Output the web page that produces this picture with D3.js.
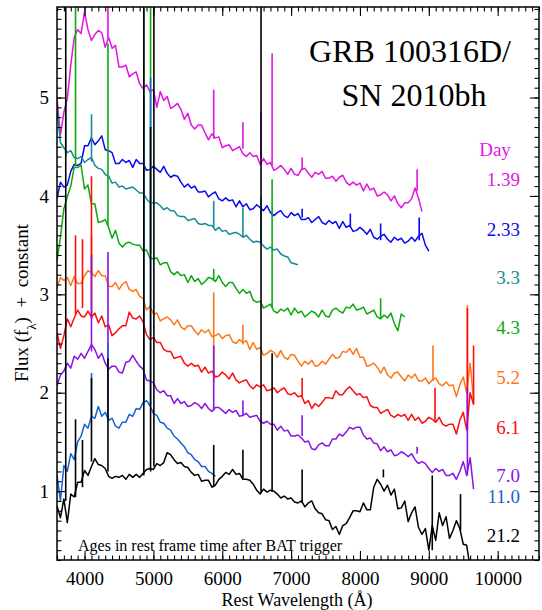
<!DOCTYPE html>
<html>
<head>
<meta charset="utf-8">
<script src="https://cdn.jsdelivr.net/npm/d3@7"></script>
<style>
body { margin: 0; background: #fff; }
text { font-family: "Liberation Serif", "Times New Roman", serif; }
</style>
</head>
<body>
<div class="chart"></div>
<script>
// every spectrum is sampled on the same grid: 3600 A, then every 50 A
var waveStart = 3600;
var waveStep = 50;

var days = ["1.39", "2.33", "3.3", "4.3", "5.2", "6.1", "7.0", "11.0", "21.2"];

var flux139 = [4.99,4.62,4.85,4.99,5.33,5.61,5.69,5.65,5.87,5.69,5.58,5.64,5.68,5.66,5.51,5.61,5.50,5.53,5.31,5.31,
  5.33,5.21,5.24,5.26,5.14,5.09,5.13,5.06,5.08,4.90,5.06,4.97,5.01,4.89,4.91,4.94,4.88,4.78,4.84,4.72,
  4.68,4.72,4.72,4.64,4.57,4.63,4.59,4.60,4.49,4.51,4.52,4.46,4.48,4.50,4.43,4.40,4.44,4.40,4.41,4.32,
  4.38,4.32,4.34,4.26,4.28,4.31,4.27,4.22,4.28,4.22,4.21,4.27,4.28,4.23,4.19,4.24,4.22,4.25,4.18,4.18,
  4.20,4.15,4.19,4.21,4.14,4.11,4.14,4.11,4.13,4.05,4.12,4.06,4.08,4.00,4.01,4.04,4.01,3.95,4.00,3.92,
  3.88,3.93,3.93,3.97,4.08,3.98,3.84];
var flux233 = [3.97,4.14,4.09,4.11,4.25,4.32,4.31,4.33,4.51,4.51,4.59,4.52,4.56,4.61,4.47,4.46,4.44,4.33,4.33,4.37,
  4.34,4.36,4.29,4.37,4.33,4.33,4.26,4.27,4.30,4.27,4.24,4.30,4.23,4.19,4.21,4.20,4.14,4.09,4.12,4.08,
  4.10,4.04,4.04,4.05,3.99,4.02,4.04,3.97,3.95,3.98,3.95,3.96,3.89,3.95,3.89,3.92,3.86,3.87,3.91,3.88,
  3.85,3.90,3.83,3.80,3.83,3.85,3.80,3.78,3.83,3.80,3.82,3.76,3.76,3.78,3.73,3.76,3.79,3.73,3.71,3.75,
  3.72,3.74,3.67,3.74,3.68,3.70,3.64,3.65,3.68,3.65,3.61,3.66,3.58,3.56,3.59,3.61,3.56,3.53,3.58,3.55,
  3.57,3.52,3.54,3.58,3.54,3.59,3.62,3.50,3.44];
var flux33 = [4.89,4.54,4.49,4.44,4.46,4.39,4.38,4.40,4.34,4.37,4.39,4.31,4.28,4.27,4.22,4.20,4.13,4.14,4.09,4.10,
  4.07,4.08,4.09,4.06,4.03,4.03,3.97,3.93,3.93,3.93,3.90,3.86,3.88,3.85,3.85,3.80,3.79,3.79,3.75,3.76,
  3.77,3.72,3.71,3.72,3.70,3.70,3.65,3.68,3.64,3.65,3.61,3.62,3.63,3.61,3.58,3.60,3.56,3.53,3.54,3.53,
  3.49,3.46,3.48,3.45,3.46,3.41,3.39,3.38,3.32,3.31,3.30];
var flux43 = [3.34,3.58,3.87,3.99,4.10,4.29,4.29,4.31,4.07,4.11,3.92,3.92,3.73,3.74,3.76,3.68,3.57,3.65,3.52,3.48,
  3.52,3.53,3.51,3.50,3.50,3.44,3.45,3.37,3.36,3.37,3.30,3.32,3.32,3.23,3.20,3.23,3.19,3.20,3.12,3.19,
  3.13,3.16,3.10,3.13,3.17,3.16,3.13,3.19,3.12,3.08,3.12,3.12,3.06,3.01,3.05,3.01,3.03,2.94,2.92,2.93,
  2.86,2.88,2.90,2.83,2.81,2.85,2.83,2.86,2.79,2.86,2.81,2.83,2.77,2.80,2.83,2.81,2.77,2.84,2.78,2.77,
  2.84,2.86,2.83,2.81,2.87,2.86,2.90,2.84,2.85,2.87,2.80,2.82,2.84,2.77,2.75,2.79,2.76,2.81,2.70,2.63,
  2.80,2.77];
var flux52 = [3.07,3.17,3.14,3.17,3.09,3.18,3.11,3.11,3.19,3.24,3.22,3.18,3.24,3.19,3.19,3.08,3.08,3.12,3.05,3.10,
  3.13,3.05,3.03,3.05,2.98,2.96,2.84,2.88,2.80,2.81,2.73,2.75,2.77,2.74,2.69,2.74,2.67,2.64,2.68,2.68,
  2.63,2.59,2.64,2.61,2.64,2.57,2.58,2.60,2.55,2.58,2.59,2.52,2.50,2.54,2.51,2.53,2.44,2.51,2.44,2.46,
  2.38,2.40,2.43,2.41,2.36,2.43,2.36,2.34,2.39,2.38,2.32,2.27,2.32,2.29,2.33,2.27,2.28,2.32,2.29,2.34,
  2.39,2.35,2.36,2.42,2.41,2.45,2.39,2.45,2.36,2.36,2.27,2.28,2.30,2.26,2.20,2.26,2.18,2.15,2.20,2.21,
  2.16,2.12,2.18,2.15,2.19,2.12,2.12,2.15,2.09,2.13,2.15,2.09,2.07,2.11,2.07,2.08,1.96,2.08,2.16,2.00,
  2.30,1.92];
var flux61 = [2.61,2.45,2.58,2.75,2.67,2.76,2.84,2.78,2.77,2.83,2.77,2.81,2.71,2.78,2.67,2.69,2.58,2.61,2.65,2.68,
  2.68,2.82,2.76,2.75,2.78,2.72,2.59,2.54,2.56,2.51,2.51,2.44,2.42,2.42,2.35,2.36,2.37,2.30,2.27,2.30,
  2.27,2.28,2.21,2.26,2.20,2.22,2.16,2.17,2.21,2.18,2.14,2.20,2.13,2.10,2.12,2.13,2.07,2.04,2.08,2.06,
  2.08,2.02,2.03,2.05,2.00,2.03,2.05,1.99,1.98,2.00,1.96,1.97,1.89,1.92,1.84,1.89,1.86,1.90,1.95,1.95,
  1.94,2.02,1.98,1.98,2.03,2.06,2.02,1.98,1.99,1.95,1.96,1.87,1.85,1.85,1.79,1.81,1.83,1.77,1.75,1.78,
  1.76,1.78,1.72,1.78,1.72,1.75,1.69,1.71,1.75,1.73,1.70,1.75,1.68,1.66,1.68,1.68,1.58,1.72,1.80,1.62,
  2.00,1.88];
var flux70 = [2.07,2.18,2.22,2.30,2.25,2.37,2.34,2.40,2.35,2.42,2.49,2.44,2.35,2.40,2.30,2.24,2.27,2.27,2.21,2.20,
  2.31,2.32,2.38,2.32,2.27,2.24,2.13,2.12,2.10,2.03,2.00,2.02,1.97,1.97,1.89,1.94,1.89,1.91,1.86,1.87,
  1.90,1.88,1.84,1.89,1.84,1.81,1.85,1.85,1.82,1.79,1.83,1.80,1.82,1.76,1.77,1.79,1.75,1.76,1.77,1.71,
  1.69,1.71,1.68,1.68,1.62,1.66,1.61,1.62,1.56,1.56,1.57,1.54,1.50,1.51,1.43,1.42,1.47,1.49,1.46,1.46,
  1.53,1.53,1.58,1.56,1.60,1.65,1.63,1.65,1.65,1.57,1.53,1.54,1.49,1.48,1.41,1.45,1.40,1.42,1.36,1.37,
  1.40,1.38,1.35,1.38,1.32,1.28,1.30,1.28,1.23,1.19,1.23,1.20,1.22,1.16,1.16,1.18,1.12,1.20,1.30,1.16,
  1.34,1.02];
var flux110 = [1.16,0.90,1.26,1.20,1.38,1.32,1.50,1.56,1.68,1.64,1.76,1.74,1.86,1.76,1.80,1.72,1.74,1.66,1.64,1.70,
  1.70,1.78,1.76,1.84,1.83,1.90,1.92,1.87,1.79,1.77,1.70,1.69,1.64,1.62,1.56,1.53,1.49,1.45,1.39,1.37,
  1.32,1.30,1.25,1.25,1.20,1.18,1.15];
var flux212 = [0.85,0.73,0.92,0.68,0.97,0.94,1.09,1.09,1.21,1.16,1.25,1.33,1.27,1.26,1.23,1.15,1.13,1.15,1.14,1.16,
  1.12,1.17,1.14,1.17,1.14,1.18,1.22,1.23,1.22,1.28,1.26,1.29,1.39,1.37,1.32,1.28,1.29,1.25,1.24,1.19,
  1.16,1.17,1.10,1.11,1.11,1.04,1.06,1.12,1.15,1.19,1.17,1.22,1.17,1.18,1.12,1.12,1.11,1.07,1.01,0.97,
  1.02,0.99,1.01,1.00,0.97,0.93,0.95,0.92,0.93,0.89,0.88,0.90,0.84,0.88,0.90,0.82,0.78,0.77,0.71,0.70,
  0.61,0.64,0.56,0.65,0.67,0.73,0.80,0.80,0.79,0.88,0.81,0.81,1.04,1.12,1.07,1.00,1.06,0.96,1.02,0.82,
  0.83,0.90,0.69,0.78,0.84,0.63,0.56,0.62,0.40,0.65,0.50,0.78,0.65,0.74,0.52,0.60,0.70,0.62,0.46,0.45,
  0.22];

// narrow emission lines / spikes: [wavelength, low, high]
var lines139 = [[4340, 5.60, 6.10], [5876, 4.58, 5.08], [6300, 4.48, 4.75], [6563, 4.38, 4.85], [6724, 4.31, 5.45], [7160, 4.26, 4.39], [8830, 4.05, 4.27]];
var lines233 = [[7160, 3.78, 3.87], [7860, 3.69, 3.82], [8300, 3.55, 3.72], [8860, 3.55, 3.78]];
var lines33 = [[3727, 4.40, 4.95], [4101, 4.35, 4.83], [5876, 3.68, 3.95], [6300, 3.59, 3.88], [6563, 3.52, 3.99]];
var lines43 = [[3869, 4.30, 6.10], [4340, 3.70, 5.55], [4861, 3.45, 6.10], [4959, 3.42, 6.10], [5876, 3.14, 3.26], [6724, 2.86, 4.17], [8300, 2.75, 2.96]];
var lines52 = [[4101, 3.20, 3.60], [5876, 2.10, 3.02], [6300, 2.49, 2.69], [9060, 2.12, 2.48], [9560, 2.00, 2.89]];
var lines61 = [[3869, 2.80, 3.60], [3970, 2.86, 3.56], [4101, 2.75, 4.20], [7160, 1.96, 2.15], [9090, 1.70, 2.05], [9560, 1.62, 2.86], [9650, 1.88, 2.48]];
var lines70 = [[4101, 2.42, 3.40], [4340, 2.32, 3.43], [5876, 1.82, 2.48], [6300, 1.76, 1.92], [7160, 1.56, 1.77], [8830, 1.38, 1.45], [9560, 1.16, 2.05]];
var lines110 = [[4101, 1.76, 2.20], [4340, 1.72, 2.50], [4861, 1.88, 5.00], [4959, 1.87, 5.20]];
var lines212 = [[3727, 0.90, 6.10], [3869, 0.94, 1.73], [3970, 1.04, 1.52], [4101, 1.30, 2.15], [4340, 1.20, 2.35],
  [4861, 1.16, 6.10], [4959, 1.20, 4.70], [5007, 1.25, 6.10], [5876, 1.04, 1.47], [6300, 1.13, 1.42],
  [6563, 0.98, 6.10], [6724, 0.99, 2.40], [7160, 0.88, 1.22], [8340, 1.14, 1.22], [9050, 0.40, 1.16], [9460, 0.60, 0.97]];

var xMajor = [4000, 5000, 6000, 7000, 8000, 9000, 10000];
var yMajor = [1, 2, 3, 4, 5];

var spectra = [
  { day: days[0], flux: flux139, lines: lines139, color: "#e214e2", labelAt: 4.17 },
  { day: days[1], flux: flux233, lines: lines233, color: "#0808f2", labelAt: 3.66 },
  { day: days[2], flux: flux33, lines: lines33, color: "#158a9a", labelAt: 3.17 },
  { day: days[3], flux: flux43, lines: lines43, color: "#0aaa0a", labelAt: 2.66 },
  { day: days[4], flux: flux52, lines: lines52, color: "#ff7614", labelAt: 2.16 },
  { day: days[5], flux: flux61, lines: lines61, color: "#ff0c0c", labelAt: 1.65 },
  { day: days[6], flux: flux70, lines: lines70, color: "#8a12e6", labelAt: 1.16 },
  { day: days[7], flux: flux110, lines: lines110, color: "#1462d6", labelAt: 0.95 },
  { day: days[8], flux: flux212, lines: lines212, color: "#000000", labelAt: 0.55 }
];

var svg = d3.select(".chart").append("svg")
    .attr("width", 542)
    .attr("height", 610);

var x = d3.scaleLinear().domain([3600, 10600]).range([57, 539]);
var y = d3.scaleLinear().domain([0.3, 5.92]).range([560, 7]);

svg.append("clipPath").attr("id", "plot")
  .append("rect")
    .attr("x", 57).attr("y", 7)
    .attr("width", 482).attr("height", 553);

var line = d3.line()
    .x((d, i) => x(waveStart + i * waveStep))
    .y(d => y(d));

var g = svg.append("g").attr("clip-path", "url(#plot)");

spectra.forEach(s => {
    g.append("path")
        .attr("d", line(s.flux))
        .attr("fill", "none")
        .attr("stroke", s.color)
        .attr("stroke-width", 1.5)
        .attr("stroke-linejoin", "round");

    g.selectAll(null)
        .data(s.lines)
        .join("line")
        .attr("x1", d => x(d[0])).attr("x2", d => x(d[0]))
        .attr("y1", d => y(d[1])).attr("y2", d => y(d[2]))
        .attr("stroke", s.color)
        .attr("stroke-width", 1.6);
});

// axes, ticks pointing into the frame on all four sides
var xMinor = d3.range(3600, 10601, 100);
var yMinor = d3.range(3, 60).map(k => k / 10);

function axisStyle(sel) {
    sel.select(".domain").remove();
    sel.selectAll("line").attr("stroke", "#000").attr("stroke-width", 1.1);
    sel.selectAll("text")
        .attr("fill", "#000")
        .style("font-family", '"Liberation Serif", "Times New Roman", serif')
        .style("font-size", "19px");
}

svg.append("g").attr("transform", "translate(0,560)")
    .call(d3.axisBottom(x).tickValues(xMajor).tickSize(-9).tickPadding(12).tickFormat(d3.format("d")))
    .call(axisStyle);
svg.append("g").attr("transform", "translate(0,560)")
    .call(d3.axisBottom(x).tickValues(xMinor).tickSize(-4.5).tickFormat(""))
    .call(axisStyle);
svg.append("g").attr("transform", "translate(0,7)")
    .call(d3.axisTop(x).tickValues(xMajor).tickSize(-9).tickFormat(""))
    .call(axisStyle);
svg.append("g").attr("transform", "translate(0,7)")
    .call(d3.axisTop(x).tickValues(xMinor).tickSize(-4.5).tickFormat(""))
    .call(axisStyle);

svg.append("g").attr("transform", "translate(57,0)")
    .call(d3.axisLeft(y).tickValues(yMajor).tickSize(-9).tickPadding(8).tickFormat(d3.format("d")))
    .call(axisStyle);
svg.append("g").attr("transform", "translate(57,0)")
    .call(d3.axisLeft(y).tickValues(yMinor).tickSize(-4.5).tickFormat(""))
    .call(axisStyle);
svg.append("g").attr("transform", "translate(539,0)")
    .call(d3.axisRight(y).tickValues(yMajor).tickSize(-9).tickFormat(""))
    .call(axisStyle);
svg.append("g").attr("transform", "translate(539,0)")
    .call(d3.axisRight(y).tickValues(yMinor).tickSize(-4.5).tickFormat(""))
    .call(axisStyle);

svg.append("rect")
    .attr("x", 57).attr("y", 7)
    .attr("width", 482).attr("height", 553)
    .attr("fill", "none")
    .attr("stroke", "#000")
    .attr("stroke-width", 1.5);

// axis titles
svg.append("text")
    .attr("x", 297).attr("y", 606)
    .attr("text-anchor", "middle")
    .style("font-size", "18px")
    .text("Rest Wavelength (Å)");

var yt = svg.append("text")
    .attr("transform", "translate(28,303) rotate(-90)")
    .attr("text-anchor", "middle")
    .style("font-size", "19px");
yt.append("tspan").text("Flux (f");
yt.append("tspan").attr("baseline-shift", "sub").style("font-size", "13px").text("λ");
yt.append("tspan").text(")\u00a0 + \u00a0constant");

// title
svg.append("text")
    .attr("x", 410).attr("y", 62)
    .attr("text-anchor", "middle")
    .style("font-size", "32px")
    .text("GRB 100316D/");
svg.append("text")
    .attr("x", 414).attr("y", 106)
    .attr("text-anchor", "middle")
    .style("font-size", "32px")
    .text("SN 2010bh");

// day labels
svg.append("text")
    .attr("x", 495).attr("y", y(4.47))
    .attr("dy", "0.35em")
    .attr("text-anchor", "middle")
    .attr("fill", spectra[0].color)
    .style("font-size", "19px")
    .text("Day");

svg.selectAll(".daylabel")
    .data(spectra)
    .join("text")
    .attr("class", "daylabel")
    .attr("x", 520)
    .attr("y", d => y(d.labelAt))
    .attr("dy", "0.35em")
    .attr("text-anchor", "end")
    .attr("fill", d => d.color)
    .style("font-size", "19px")
    .text(d => d.day);

svg.append("text")
    .attr("x", 78).attr("y", 551)
    .style("font-size", "16px")
    .text("Ages in rest frame time after BAT trigger");
</script>
</body>
</html>
